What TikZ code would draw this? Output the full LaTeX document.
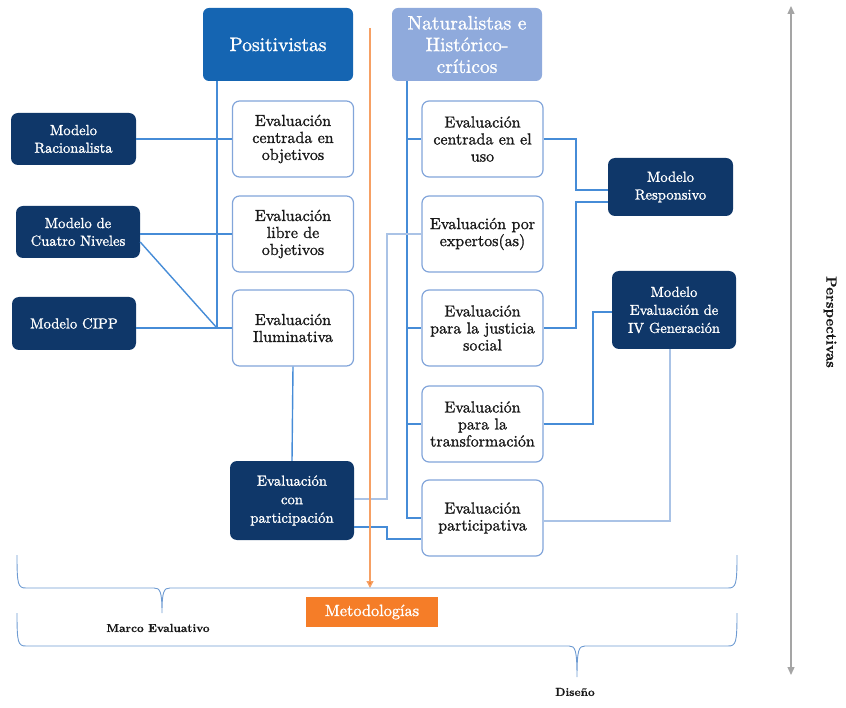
\documentclass[tikz,border=0pt]{standalone}
\usepackage{fontspec}
\setmainfont{lmroman10-regular.otf}[FakeBold=1.2, BoldFont=lmroman10-bold.otf, BoldFeatures={FakeBold=0.4}]
\usetikzlibrary{arrows.meta,calc}
\definecolor{navy}{RGB}{15,55,105}
\definecolor{posblue}{RGB}{21,101,178}
\definecolor{natblue}{RGB}{143,170,220}
\definecolor{boxedge}{RGB}{130,165,218}
\definecolor{conn}{RGB}{70,140,215}
\definecolor{connlight}{RGB}{170,195,230}
\definecolor{orng}{RGB}{245,125,40}
\definecolor{orngline}{RGB}{246,160,100}
\definecolor{graya}{RGB}{165,165,165}
\definecolor{bracec}{RGB}{110,155,210}
\definecolor{txt}{RGB}{25,25,25}
\tikzset{
  headbox/.style={rectangle, rounded corners=6pt, text=white, align=center,
    minimum width=150pt, minimum height=73pt, inner sep=2pt,
    font=\fontsize{19.5}{21.7}\selectfont},
  evalbox/.style={rectangle, rounded corners=7pt, draw=boxedge, line width=1.2pt, fill=white,
    text=txt, align=center, minimum width=121pt, minimum height=76pt, inner sep=1pt,
    font=\fontsize{16}{17}\selectfont},
  modelbox/.style={rectangle, rounded corners=7pt, fill=navy, text=white, align=center,
    minimum width=124pt, minimum height=52pt, inner sep=1pt,
    font=\fontsize{14.6}{17.7}\selectfont},
  link/.style={draw=conn, line width=1.4pt},
  linklight/.style={draw=connlight, line width=1.3pt},
  bracel/.style={draw=bracec, line width=0.9pt},
  lbl/.style={font=\bfseries\fontsize{11.6}{13}\selectfont, text=txt}
}
\begin{document}
\begin{tikzpicture}[x=1pt,y=-1pt]
\useasboundingbox (0,0) rectangle (846,708);

% header boxes
\node[headbox, fill=posblue] (pos) at (278,44.5) {Positivistas};
\node[headbox, fill=natblue] (nat) at (467,44.5) {Naturalistas e\\Histórico-\\críticos};

% left column
\node[evalbox] (L1) at (293,139) {Evaluación\\centrada en\\objetivos};
\node[evalbox] (L2) at (293,234) {Evaluación\\libre de\\objetivos};
\node[evalbox] (L3) at (293,328) {Evaluación\\Iluminativa};
\node[modelbox, minimum height=79pt, font=\fontsize{14.7}{18.5}\selectfont] (cp) at (292,500.5) {Evaluación\\con\\participación};

% right column
\node[evalbox] (R1) at (482.5,139) {Evaluación\\centrada en el\\uso};
\node[evalbox] (R2) at (482.5,234) {Evaluación por\\expertos(as)};
\node[evalbox] (R3) at (482.5,328) {Evaluación\\para la justicia\\social};
\node[evalbox] (R4) at (482.5,424) {Evaluación\\para la\\transformación};
\node[evalbox] (R5) at (482.5,518) {Evaluación\\participativa};

% models
\node[modelbox, minimum width=125pt] (MR) at (73.5,139) {Modelo\\Racionalista};
\node[modelbox] (MC) at (78,232) {Modelo de\\Cuatro Niveles};
\node[modelbox, minimum height=53pt] (MP) at (74,323.5) {Modelo CIPP};
\node[modelbox, minimum width=125pt, minimum height=58pt] (Resp) at (670.5,187) {Modelo\\Responsivo};
\node[modelbox, minimum height=78pt, font=\fontsize{14.5}{18}\selectfont] (IVG) at (674,310) {Modelo\\Evaluación de\\IV Generación};

\node[rectangle, fill=orng, text=white, minimum width=132pt, minimum height=30pt, inner sep=1pt,
  font=\fontsize{16.3}{17}\selectfont] (met) at (372,612) {Metodologías};

% helper coordinates
\coordinate (sL) at (217,0);
\coordinate (sR) at (407,0);
\coordinate (jR) at (576,0);
\coordinate (jT) at (593,0);
\coordinate (jE) at (387,0);
\coordinate (respA) at ([yshift=-3pt]Resp.west);
\coordinate (respB) at ([yshift=-15pt]Resp.west);
\coordinate (ivgW) at ([yshift=-2pt]IVG.west);
\coordinate (ivgS) at ([xshift=-4pt]IVG.south);
\coordinate (r5E) at ([yshift=-3pt]R5.east);
\coordinate (r5W) at ([yshift=-21pt]R5.west);
\coordinate (cpA) at ([yshift=1.5pt]cp.east);
\coordinate (cpB) at ([yshift=-26.5pt]cp.east);
\coordinate (mcD) at ([yshift=-10pt]MC.east);

% left spine
\draw[link] (pos.south -| sL) -- (sL |- L3.west);
\draw[link] (sL |- L1.west) -- (L1.west);
\draw[link] (sL |- L2.west) -- (L2.west);
\draw[link] (sL |- L3.west) -- (L3.west);
\draw[link] (MR.east) -- (sL |- MR.east);
\draw[link] (MC.east |- L2.west) -- (sL |- L2.west);
\draw[link] (MP.east |- L3.west) -- (sL |- L3.west);
\draw[link] (mcD) -- (sL |- L3.west);
\draw[link] (L3.south) -- (cp.north);

% right spine
\draw[link] (nat.south -| sR) -- (sR |- R5.west) -- (R5.west);
\draw[link] (sR |- R1.west) -- (R1.west);
\draw[link] (sR |- R2.west) -- (R2.west);
\draw[link] (sR |- R3.west) -- (R3.west);
\draw[link] (sR |- R4.west) -- (R4.west);

% to Responsivo
\draw[link] (R1.east) -- (jR |- R1.east) -- (jR |- respA) -- (respA);
\draw[link] (respB) -- (jR |- respB) -- (jR |- R3.east) -- (R3.east);
% to IV Generacion
\draw[link] (R4.east) -- (jT |- R4.east) -- (jT |- ivgW) -- (ivgW);
\draw[linklight] (ivgS) -- (ivgS |- r5E) -- (r5E);
% expertos to con participacion
\draw[linklight] (R2.west) -- (jE |- R2.west) -- (jE |- cpA) -- (cpA);
% con participacion to participativa
\draw[link] (cpB) -- (jE |- cpB) -- (jE |- r5W) -- (r5W);

% orange arrow
\coordinate (oTop) at (370,28);
\coordinate (oBot) at (370,588);
\draw[draw=orngline, line width=1.4pt, -{Triangle[length=7pt,width=7pt,fill=orng]}] (oTop) -- (oBot);

% braces
\draw[bracel] (17,555) .. controls (17,585) and (18,588) .. (26,588) -- (154,588)
  .. controls (160,588) and (162,591) .. (162,613)
  .. controls (162,591) and (164,588) .. (170,588) -- (728,588)
  .. controls (736,588) and (737,585) .. (737,555);
\draw[bracel] (17,613) .. controls (17,643) and (18,646) .. (26,646) -- (569,646)
  .. controls (575,646) and (577,649) .. (577,677)
  .. controls (577,649) and (579,646) .. (585,646) -- (728,646)
  .. controls (736,646) and (737,643) .. (737,613);
\node[lbl] (marco) at (158,628) {Marco Evaluativo};
\node[lbl] (dis) at (575,692) {Diseño};

% perspectivas arrow
\coordinate (pTop) at (791,6);
\coordinate (pBot) at (791,675);
\draw[draw=graya, line width=1.3pt, {Triangle[length=8pt,width=7pt]}-{Triangle[length=8pt,width=7pt]}] (pTop) -- (pBot);
\node[rotate=-90, font=\bfseries\fontsize{14.7}{16}\selectfont, text=txt] (persp) at (830,322) {Perspectivas};
\end{tikzpicture}
\end{document}
